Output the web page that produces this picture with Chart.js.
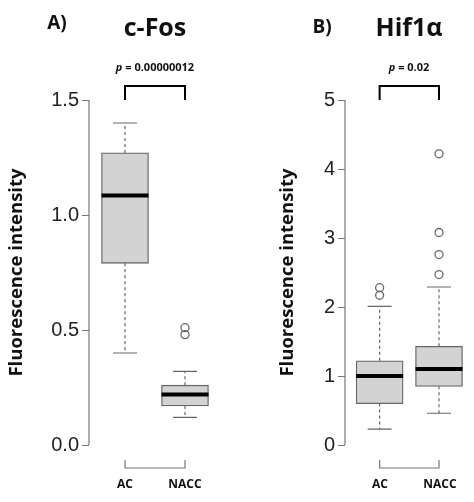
<!DOCTYPE html>
<html><head><meta charset="utf-8">
<script src="https://cdn.jsdelivr.net/npm/chart.js@4"></script>
<style>
body{margin:0;background:#fff;width:474px;height:502px;position:relative;overflow:hidden;font-family:"Open Sans","Liberation Sans",sans-serif}
canvas{position:absolute;top:0}
.t{position:absolute;transform:translate(-50%,-50%);white-space:nowrap;font-weight:bold;color:#111}
</style></head><body>
<div style="position:absolute;left:0;top:0;width:237px;height:502px"><canvas id="cA"></canvas></div>
<div style="position:absolute;left:237px;top:0;width:237px;height:502px"><canvas id="cB"></canvas></div>
<div class="t" style="left:57px;top:22px;font-size:19px">A)</div>
<div class="t" style="left:155px;top:26px;font-size:25px">c-Fos</div>
<div class="t" style="left:155px;top:66px;font-size:11px"><i>p</i> = 0.00000012</div>
<div class="t" style="left:322px;top:26px;font-size:19px">B)</div>
<div class="t" style="left:409px;top:26px;font-size:25px">Hif1α</div>
<div class="t" style="left:409px;top:66px;font-size:11px"><i>p</i> = 0.02</div>
<div class="t" style="left:125px;top:483px;font-size:12px">AC</div>
<div class="t" style="left:185px;top:483px;font-size:12px">NACC</div>
<div class="t" style="left:380px;top:483px;font-size:12px">AC</div>
<div class="t" style="left:440px;top:483px;font-size:12px">NACC</div>
<script>
const categories = ["AC", "NACC"];
// c-Fos
const fosWhiskerLow = [0.40, 0.12];
const fosQ1 = [0.79, 0.17];
const fosMedian = [1.085, 0.22];
const fosQ3 = [1.27, 0.26];
const fosWhiskerHigh = [1.40, 0.32];
const fosOutliers = [[], [0.48, 0.51]];
const fosTicks = [0, 0.5, 1.0, 1.5];
// Hif1a
const hifWhiskerLow = [0.23, 0.46];
const hifQ1 = [0.60, 0.85];
const hifMedian = [1.00, 1.10];
const hifQ3 = [1.22, 1.43];
const hifWhiskerHigh = [2.01, 2.29];
const hifOutliers = [[2.17, 2.28], [2.47, 2.76, 3.08, 4.22]];
const hifTicks = [0, 1, 2, 3, 4, 5];

const boxPlugin = {
  id: 'boxp',
  afterDatasetsDraw(chart) {
    const o = chart.options.plugins.boxp;
    const ctx = chart.ctx, x = chart.scales.x, y = chart.scales.y;
    const half = 23.5, cap = 12;
    ctx.save();
    for (let i = 0; i < 2; i++) {
      const cx = x.getPixelForValue(i + 1);
      ctx.strokeStyle = '#666'; ctx.lineWidth = 1.2;
      ctx.setLineDash([3, 3]);
      ctx.beginPath();
      ctx.moveTo(cx, y.getPixelForValue(o.q3[i])); ctx.lineTo(cx, y.getPixelForValue(o.hi[i]));
      ctx.moveTo(cx, y.getPixelForValue(o.q1[i])); ctx.lineTo(cx, y.getPixelForValue(o.lo[i]));
      ctx.stroke();
      ctx.setLineDash([]);
      ctx.beginPath();
      ctx.moveTo(cx - cap, y.getPixelForValue(o.hi[i])); ctx.lineTo(cx + cap, y.getPixelForValue(o.hi[i]));
      ctx.moveTo(cx - cap, y.getPixelForValue(o.lo[i])); ctx.lineTo(cx + cap, y.getPixelForValue(o.lo[i]));
      ctx.stroke();
      ctx.strokeStyle = '#000'; ctx.lineWidth = 4;
      ctx.beginPath();
      const my = y.getPixelForValue(o.med[i]);
      ctx.moveTo(cx - half, my); ctx.lineTo(cx + half, my); ctx.stroke();
    }
    const a = x.getPixelForValue(1), b = x.getPixelForValue(2);
    const top = chart.chartArea.top;
    ctx.strokeStyle = '#000'; ctx.lineWidth = 2;
    ctx.beginPath(); ctx.moveTo(a, top); ctx.lineTo(a, top - 14); ctx.lineTo(b, top - 14); ctx.lineTo(b, top); ctx.stroke();
    const bot = chart.chartArea.bottom;
    ctx.strokeStyle = '#777'; ctx.lineWidth = 1.2;
    ctx.beginPath(); ctx.moveTo(a, bot + 15); ctx.lineTo(a, bot + 23); ctx.lineTo(b, bot + 23); ctx.lineTo(b, bot + 15); ctx.stroke();
    ctx.strokeStyle = '#777'; ctx.lineWidth = 1.2;
    ctx.beginPath(); ctx.moveTo(chart.chartArea.left, y.getPixelForValue(o.ticks[0]));
    ctx.lineTo(chart.chartArea.left, y.getPixelForValue(o.ticks[o.ticks.length - 1])); ctx.stroke();
    ctx.restore();
  }
};

function make(id, d, xmin, xmax, padL, axW, padR) {
  const outPts = [];
  d.out.forEach((arr, i) => arr.forEach(v => outPts.push({x: i + 1, y: v})));
  new Chart(document.getElementById(id), {
    data: {
      datasets: [
        {type: 'bar', data: categories.map((c, i) => ({x: i + 1, y: [d.q1[i], d.q3[i]]})),
         backgroundColor: '#d3d3d3', borderColor: '#666', borderWidth: 1.3, borderSkipped: false, barThickness: 47},
        {type: 'scatter', data: outPts, pointStyle: 'circle', pointRadius: 4,
         backgroundColor: 'rgba(0,0,0,0)', borderColor: '#666', borderWidth: 1.3}
      ]
    },
    options: {
      responsive: true, maintainAspectRatio: false, animation: false,
      layout: {padding: {top: 100, bottom: 57, left: padL, right: padR}},
      plugins: {legend: {display: false}, tooltip: {enabled: false},
        boxp: {q1: d.q1, q3: d.q3, med: d.med, lo: d.lo, hi: d.hi, ticks: d.ticks}},
      scales: {
        x: {type: 'linear', min: xmin, max: xmax, offset: false, display: false},
        y: {min: d.ticks[0], max: d.ticks[d.ticks.length - 1],
          afterBuildTicks: s => { s.ticks = d.ticks.map(v => ({value: v})); },
          afterFit: s => { s.width = axW; },
          border: {display: false},
          grid: {drawOnChartArea: false, drawTicks: true, tickLength: 7, color: '#777'},
          ticks: {font: {family: 'Liberation Sans', size: 20}, color: '#222', padding: 3,
            callback: v => d.fmt(v)},
          title: {display: true, text: 'Fluorescence intensity', color: '#111',
            font: {family: 'Open Sans', size: 18.5, weight: 'bold'}, padding: 0}
        }
      }
    },
    plugins: [boxPlugin]
  });
}
make('cA', {q1: fosQ1, q3: fosQ3, med: fosMedian, lo: fosWhiskerLow, hi: fosWhiskerHigh, out: fosOutliers,
  ticks: fosTicks, fmt: v => v.toFixed(1)}, 0.4, 2.6, 6, 83, 16);
make('cB', {q1: hifQ1, q3: hifQ3, med: hifMedian, lo: hifWhiskerLow, hi: hifWhiskerHigh, out: hifOutliers,
  ticks: hifTicks, fmt: v => String(v)}, 0.417, 2.5, 40, 68, 4);
</script></body></html>
